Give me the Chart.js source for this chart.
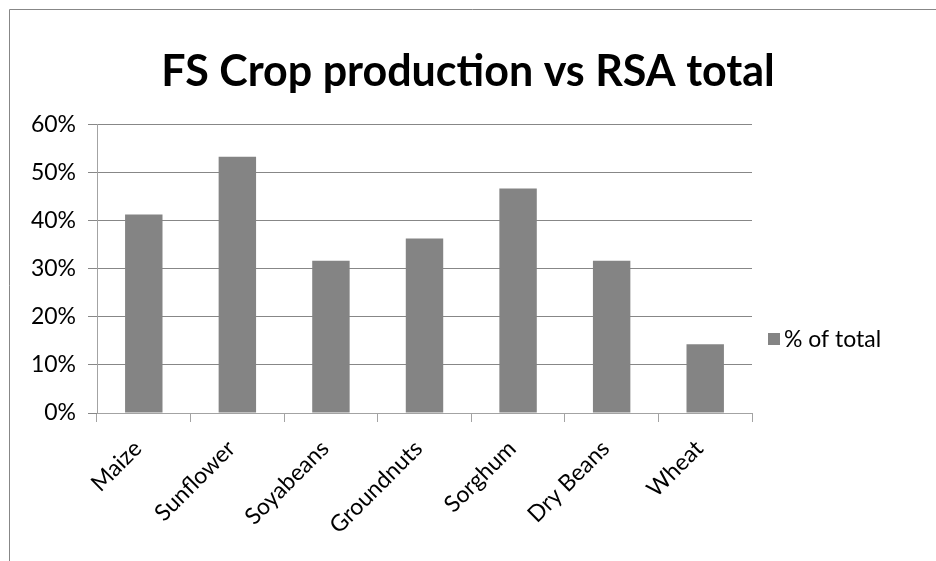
<!DOCTYPE html>
<html>
<head>
<meta charset="utf-8">
<script src="https://cdn.jsdelivr.net/npm/chart.js@4"></script>
<style>
  html, body { margin: 0; padding: 0; background: #fff; }
  #wrap { width: 936px; height: 561px; }
</style>
</head>
<body>
<div id="wrap"><canvas id="chart" width="936" height="561"></canvas></div>
<script>
// values (percent)
const crops = ['Maize', 'Sunflower', 'Soyabeans', 'Groundnuts', 'Sorghum', 'Dry Beans', 'Wheat'];
const pctOfTotal = [41.3, 53.3, 31.7, 36.3, 46.7, 31.7, 14.3];
const yTicks = [0, 10, 20, 30, 40, 50, 60];
const seriesName = '% of total';
const titleText = 'FS Crop production vs RSA total';

const FONT = 'Lato, "Open Sans", sans-serif';
const barGrey = '#848484';
const gridGrey = '#878787';
const axisGrey = '#a3a3a3';

// outer chart frame (only top and left edges show in the crop)
const framePlugin = {
  id: 'frame',
  beforeDraw(chart) {
    const ctx = chart.ctx;
    ctx.save();
    ctx.strokeStyle = gridGrey;
    ctx.lineWidth = 1;
    ctx.beginPath();
    ctx.moveTo(9.5, chart.height);
    ctx.lineTo(9.5, 9.5);
    ctx.lineTo(chart.width, 9.5);
    ctx.stroke();
    ctx.restore();
  },
  // title centred over the whole chart, not just over the padded box
  afterLayout(chart) {
    const t = chart.titleBlock;
    if (t) {
      t.left = 0;
      t.right = chart.width;
      t.width = chart.width;
    }
  }
};

// legend to the right of the plot, like Excel puts it
const sideLegend = {
  id: 'sideLegend',
  afterDraw(chart) {
    const ctx = chart.ctx;
    const ds = chart.data.datasets[0];
    const area = chart.chartArea;
    const x = area.right + 16;
    const cy = 339;
    ctx.save();
    ctx.fillStyle = ds.backgroundColor;
    ctx.fillRect(x, cy - 6, 12, 12);
    ctx.fillStyle = '#000';
    ctx.font = '23px ' + FONT;
    ctx.textBaseline = 'middle';
    ctx.textAlign = 'left';
    ctx.fillText(ds.label, x + 16, cy + 1);
    ctx.restore();
  }
};

new Chart(document.getElementById('chart'), {
  type: 'bar',
  data: {
    labels: crops,
    datasets: [{
      label: seriesName,
      data: pctOfTotal,
      backgroundColor: barGrey,
      borderWidth: 0,
      barPercentage: 0.4,
      categoryPercentage: 1.0
    }]
  },
  options: {
    responsive: false,
    animation: false,
    devicePixelRatio: 1,
    layout: { padding: { top: 10, right: 184, bottom: 0, left: 0 } },
    plugins: {
      legend: { display: false },
      tooltip: { enabled: false },
      title: {
        display: true,
        text: titleText,
        color: '#000',
        font: { family: FONT, size: 43, weight: 'bold' },
        padding: { top: 36, bottom: 27 }
      }
    },
    scales: {
      x: {
        offset: true,
        grid: {
          offset: true,
          drawOnChartArea: false,
          drawTicks: true,
          tickLength: 9,
          color: axisGrey
        },
        border: { color: axisGrey },
        ticks: {
          color: '#000',
          font: { family: FONT, size: 23 },
          minRotation: 45,
          maxRotation: 45,
          padding: 13,
          labelOffset: -6
        },
        afterFit(scale) { scale.height = 148; }
      },
      y: {
        min: 0,
        max: 60,
        afterBuildTicks(scale) { scale.ticks = yTicks.map(v => ({ value: v })); },
        grid: {
          color: gridGrey,
          drawTicks: true,
          tickLength: 9
        },
        border: { color: axisGrey },
        ticks: {
          color: '#000',
          font: { family: FONT, size: 23 },
          padding: 12,
          callback: v => v + '%'
        },
        afterFit(scale) { scale.width = 97; }
      }
    }
  },
  plugins: [framePlugin, sideLegend]
});
</script>
</body>
</html>
